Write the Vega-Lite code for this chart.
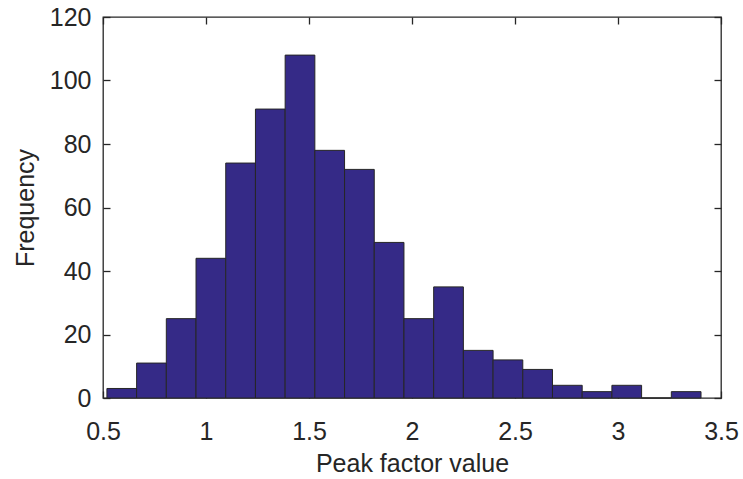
{
  "$schema": "https://vega.github.io/schema/vega-lite/v6.json",
  "width": 618,
  "height": 381,
  "autosize": "none",
  "padding": {"left": 103, "top": 17, "right": 22, "bottom": 81},
  "background": "white",
  "config": {
    "view": {"stroke": "#262626", "strokeWidth": 1.3},
    "font": "Liberation Sans",
    "axis": {
      "grid": false,
      "domain": false,
      "tickColor": "#262626",
      "tickSize": -7,
      "tickWidth": 1.3,
      "labelColor": "#262626",
      "labelFont": "Liberation Sans",
      "labelFontSize": 25,
      "titleFont": "Liberation Sans",
      "titleFontSize": 25,
      "titleFontWeight": "normal",
      "titleColor": "#262626"
    }
  },
  "data": {
    "values": [
      {"bin_start": 0.519, "bin_end": 0.6632, "count": 3},
      {"bin_start": 0.6632, "bin_end": 0.8074, "count": 11},
      {"bin_start": 0.8074, "bin_end": 0.9516, "count": 25},
      {"bin_start": 0.9516, "bin_end": 1.0958, "count": 44},
      {"bin_start": 1.0958, "bin_end": 1.24, "count": 74},
      {"bin_start": 1.24, "bin_end": 1.3842, "count": 91},
      {"bin_start": 1.3842, "bin_end": 1.5284, "count": 108},
      {"bin_start": 1.5284, "bin_end": 1.6726, "count": 78},
      {"bin_start": 1.6726, "bin_end": 1.8168, "count": 72},
      {"bin_start": 1.8168, "bin_end": 1.961, "count": 49},
      {"bin_start": 1.961, "bin_end": 2.1052, "count": 25},
      {"bin_start": 2.1052, "bin_end": 2.2494, "count": 35},
      {"bin_start": 2.2494, "bin_end": 2.3936, "count": 15},
      {"bin_start": 2.3936, "bin_end": 2.5378, "count": 12},
      {"bin_start": 2.5378, "bin_end": 2.682, "count": 9},
      {"bin_start": 2.682, "bin_end": 2.8262, "count": 4},
      {"bin_start": 2.8262, "bin_end": 2.9704, "count": 2},
      {"bin_start": 2.9704, "bin_end": 3.1146, "count": 4},
      {"bin_start": 3.1146, "bin_end": 3.2588, "count": 0},
      {"bin_start": 3.2588, "bin_end": 3.403, "count": 2}
    ]
  },
  "layer": [
    {
      "mark": {"type": "bar", "fill": "#352a87", "stroke": "#262626", "strokeWidth": 1},
      "encoding": {
        "x": {
          "field": "bin_start",
          "type": "quantitative",
          "scale": {"domain": [0.5, 3.5], "nice": false, "zero": false},
          "axis": {"orient": "bottom", "title": "Peak factor value", "values": [0.5, 1, 1.5, 2, 2.5, 3, 3.5], "format": "~g", "labelPadding": 28, "titlePadding": 7, "labelFlush": false}
        },
        "x2": {"field": "bin_end"},
        "y": {
          "field": "count",
          "type": "quantitative",
          "scale": {"domain": [0, 120], "nice": false},
          "axis": {"orient": "left", "title": "Frequency", "values": [0, 20, 40, 60, 80, 100, 120], "labelPadding": 19, "titlePadding": 11}
        },
        "y2": {"datum": 0}
      }
    },
    {
      "mark": {"type": "point", "opacity": 0},
      "encoding": {
        "x": {
          "field": "bin_start",
          "type": "quantitative",
          "axis": {"orient": "top", "title": null, "labels": false, "values": [0.5, 1, 1.5, 2, 2.5, 3, 3.5]}
        },
        "y": {
          "field": "count",
          "type": "quantitative",
          "axis": {"orient": "right", "title": null, "labels": false, "values": [0, 20, 40, 60, 80, 100, 120]}
        }
      }
    }
  ],
  "resolve": {"axis": {"x": "independent", "y": "independent"}}
}
